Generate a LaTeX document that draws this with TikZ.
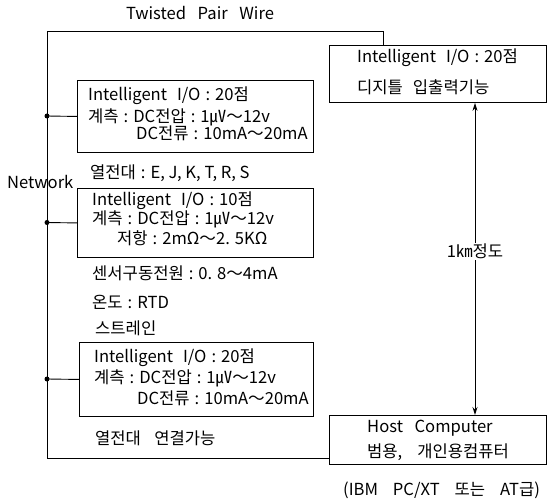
\documentclass[tikz,border=0pt]{standalone}
\usepackage{fontspec}
\setmainfont{Noto Sans CJK KR}
\usetikzlibrary{arrows.meta}
\newcommand\cln{\hspace{0.3em}:\hspace{0.3em}}
\begin{document}
\begin{tikzpicture}[x=1pt,y=-1pt,
  wire/.style={line width=0.9pt},
  box/.style={draw,line width=0.9pt,anchor=north west,inner sep=0pt,minimum width=#1},
  lbl/.style={anchor=west,inner sep=0pt,font=\fontsize{16.6}{18}\selectfont},
  jdot/.style={circle,fill,inner sep=0pt,minimum size=5pt}]
\useasboundingbox (0,0) rectangle (547,500);
% boxes
\node[box=236pt,minimum height=72pt] (b1) at (77,80) {};
\node[box=236pt,minimum height=69pt] (b2) at (77,188) {};
\node[box=234pt,minimum height=74pt] (b3) at (79,342) {};
\node[box=217pt,minimum height=57pt] (tr) at (329,45) {};
\node[box=217pt,minimum height=49pt] (host) at (329,415) {};
% network wiring
\coordinate (top) at (47,31);
\coordinate (bot) at (47,458);
\coordinate (tc) at (383,31);
\node[jdot] (j1) at (47,116) {};
\node[jdot] (j2) at (47,222.5) {};
\node[jdot] (j3) at (47,379) {};
\draw[wire] (tr.north -| tc) -- (tc) -- (top) -- (bot) -- (host.west |- bot);
\draw[wire] (j1.center) -- (b1.west);
\draw[wire] (j2.center) -- (b2.west);
\draw[wire] (j3.center) -- (b3.west);
% distance arrow
\coordinate (ax) at (475,0);
\draw[wire,{Stealth[length=8pt,width=5pt]}-{Stealth[length=8pt,width=5pt]}] (tr.south -| ax) -- (host.north -| ax)
  node[pos=0.477,fill=white,inner sep=1pt,font=\fontsize{16.6}{18}\selectfont] (dist) {1㎞정도};
% texts
\node[lbl,anchor=center] (tpw) at (200,13) {Twisted\hspace{0.7em}Pair\hspace{0.7em}Wire};
\node[lbl] (t1) at (357,58) {Intelligent\hspace{0.6em}I/O\cln 20점};
\node[lbl] (t2) at (357,87) {디지틀\hspace{0.6em}입출력기능};
\node[lbl] (a1) at (88,96) {Intelligent\hspace{0.6em}I/O\cln 20점};
\node[lbl] (a2) at (88,117) {계측\cln DC전압\cln 1㎶～12v};
\node[lbl] (a3) at (136,133) {DC전류\cln 10mA～20mA};
\node[lbl] (tc1) at (90,173) {열전대\cln E, J, K, T, R, S};
\node[lbl] (net) at (7,182) {Network};
\node[lbl] (c1) at (92,201) {Intelligent\hspace{0.6em}I/O\cln 10점};
\node[lbl] (c2) at (92,219) {계측\cln DC전압\cln 1㎶～12v};
\node[lbl] (c3) at (117,238) {저항\cln 2mΩ～2. 5KΩ};
\node[lbl] (s1) at (92,273) {센서구동전원\cln 0. 8～4mA};
\node[lbl] (s2) at (92,302) {온도\cln RTD};
\node[lbl] (s3) at (95,328) {스트레인};
\node[lbl] (d1) at (94,358) {Intelligent\hspace{0.6em}I/O\cln 20점};
\node[lbl] (d2) at (94,378) {계측\cln DC전압\cln 1㎶～12v};
\node[lbl] (d3) at (137,398) {DC전류\cln 10mA～20mA};
\node[lbl] (e1) at (95,438) {열전대\hspace{0.8em}연결가능};
\node[lbl] (h1) at (367,428) {Host\hspace{0.7em}Computer};
\node[lbl] (h2) at (367,452) {범용,\hspace{0.9em}개인용컴퓨터};
\node[lbl] (h3) at (343,490) {(IBM\hspace{0.9em}PC/XT\hspace{0.9em}또는\hspace{0.9em}AT급)};
\end{tikzpicture}
\end{document}
